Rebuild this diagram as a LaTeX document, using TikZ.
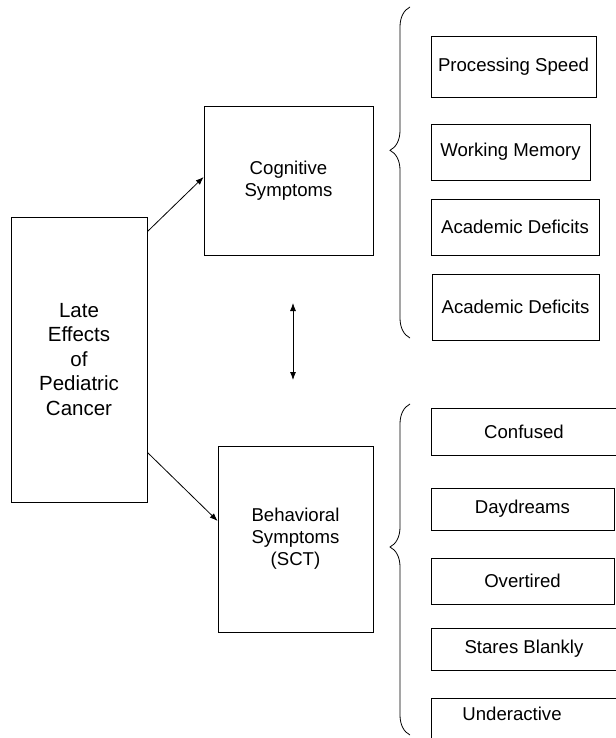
\documentclass[tikz,border=0pt]{standalone}
\usepackage{fontspec}
\setmainfont{Liberation Sans}
\usetikzlibrary{arrows.meta,decorations.pathreplacing}
\begin{document}
\begin{tikzpicture}[x=1pt,y=-1pt,line width=0.8pt,>={Latex[length=8pt,width=6pt]},
        symbox/.style={draw,inner sep=0pt,align=center,font=\fontsize{18.6}{22}\selectfont},
        curly/.style={decorate,decoration={brace,amplitude=20pt,aspect=#1}}]
        \useasboundingbox (0,0) rectangle (615,738);
        % main boxes
        \node[symbox,minimum width=136pt,minimum height=285pt,font=\fontsize{20.5}{24.5}\selectfont] (late) at (79,359.5) {Late\\Effects\\of\\Pediatric\\Cancer};
        \node[symbox,minimum width=169pt,minimum height=149pt] (cog) at (288.5,180.5) {Cognitive\\Symptoms};
        \node[symbox,minimum width=155pt,minimum height=186pt] (beh) at (295.5,539) {Behavioral\\Symptoms\\(SCT)};
        \draw[->] ([yshift=-15pt]late.north east) -- ([yshift=3.5pt]cog.west);
        \draw[->] ([yshift=50pt]late.south east) -- ([yshift=18pt]beh.west);
        \coordinate (linktop) at (293,303);
        \coordinate (linkbot) at (293,380);
        \draw[<->] (linktop) -- (linkbot);
        % cognitive list
        \draw[curly=0.567] (410,338) -- (410,7);
        \node[symbox,minimum width=165pt,minimum height=61pt] (speed) at (513.5,66.5) {Processing Speed};
        \node[symbox,minimum width=159pt,minimum height=56pt] (memory) at (510.5,152) {Working Memory};
        \node[symbox,minimum width=168pt,minimum height=56pt] (acad1) at (515,227) {Academic Deficits};
        \node[symbox,minimum width=167pt,minimum height=66pt] (acad2) at (515.5,307) {Academic Deficits};
        % behavioral list
        \draw[curly=0.568] (410,735) -- (410,404);
        \node[symbox,minimum width=186pt,minimum height=47pt] (confused) at (524,431.5) {Confused};
        \node[symbox,minimum width=183pt,minimum height=42pt] (daydream) at (522.5,509) {Daydreams};
        \node[symbox,minimum width=183pt,minimum height=46pt] (overtired) at (522.5,581) {Overtired};
        \node[symbox,minimum width=186pt,minimum height=42pt] (stares) at (524,649) {Stares Blankly};
        \node[symbox,anchor=north west,inner xsep=31pt,inner ysep=9pt,text width=130pt,align=left,text height=13pt,text depth=40pt] (under) at (431,698) {Underactive};
\end{tikzpicture}
\end{document}
